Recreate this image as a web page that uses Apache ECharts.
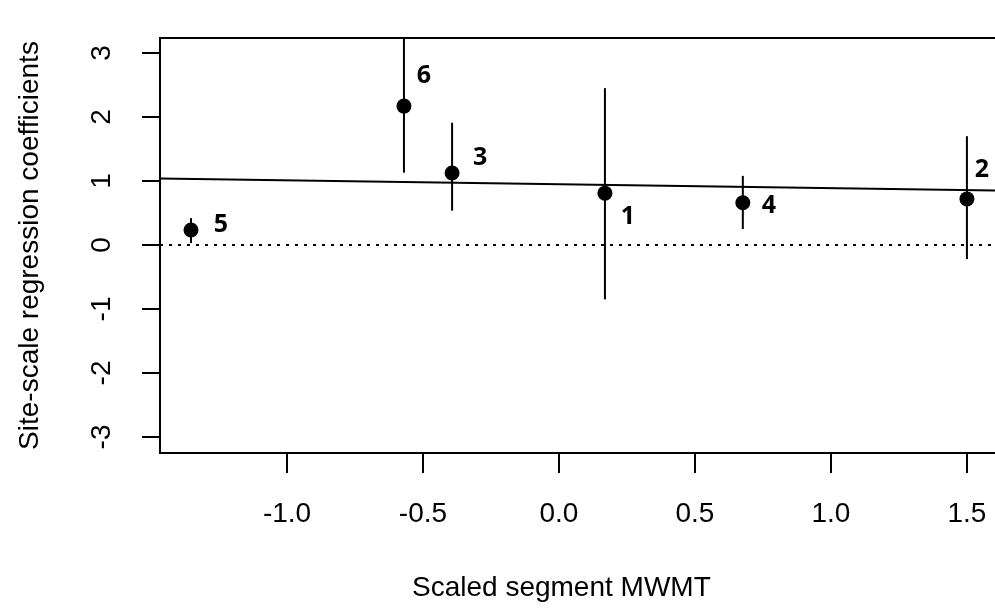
<!DOCTYPE html>
<html>
<head>
<meta charset="utf-8">
<script src="https://cdn.jsdelivr.net/npm/echarts@6/dist/echarts.min.js"></script>
<style>
  html, body { margin: 0; padding: 0; background: #fff; }
  #grafico { width: 995px; height: 611px; }
</style>
</head>
<body>
<div id="grafico"></div>
<script>
// site values
const siteLabels = ["5", "6", "3", "1", "4", "2"];
const siteMwmt = [-1.353, -0.57, -0.393, 0.169, 0.676, 1.50];
const siteCoef = [0.234, 2.17, 1.125, 0.81, 0.66, 0.72];
const ciLower = [0.03, 1.13, 0.536, -0.85, 0.25, -0.22];
const ciUpper = [0.42, 3.6, 1.91, 2.45, 1.08, 1.70];

// fitted line, end points
const fitX = [-1.467, 1.64];
const fitY = [1.04, 0.85];

const xTicks = [-1.0, -0.5, 0.0, 0.5, 1.0, 1.5];
const yTicks = [-3, -2, -1, 0, 1, 2, 3];

// where each number sits next to its point (px)
const labelOffsets = [[30, -5], [20, -30], [28, -15], [23, 24], [26, 3], [15, -29]];

const fonte = "'Liberation Sans', Arial, sans-serif";

let myChart = echarts.init(document.getElementById("grafico"));

let option = {
  animation: false,
  grid: {
    left: 160,
    top: 38,
    width: 845,
    bottom: 158,
    outerBoundsMode: "none",
    containLabel: false,
    show: true,
    borderColor: "#000",
    borderWidth: 2,
    backgroundColor: "transparent"
  },
  xAxis: {
    type: "value",
    min: -1.467,
    max: 1.64,
    splitLine: { show: false },
    axisLine: { show: false, onZero: false },
    axisTick: {
      show: true,
      length: 20,
      customValues: xTicks,
      lineStyle: { color: "#000", width: 2 }
    },
    axisLabel: {
      customValues: xTicks,
      margin: 47,
      fontSize: 28,
      fontFamily: fonte,
      color: "#000",
      formatter: v => v.toFixed(1)
    }
  },
  yAxis: {
    type: "value",
    min: -3.25,
    max: 3.234,
    splitLine: { show: false },
    axisLine: { show: false, onZero: false },
    axisTick: {
      show: true,
      length: 18,
      customValues: yTicks,
      lineStyle: { color: "#000", width: 2 }
    },
    axisLabel: {
      customValues: yTicks,
      rotate: 90,
      margin: 44,
      fontSize: 28,
      fontFamily: fonte,
      color: "#000"
    },
    name: "Site-scale regression coefficients",
    nameLocation: "middle",
    nameRotate: 90,
    nameGap: 116,
    nameTextStyle: { fontSize: 28, fontFamily: fonte, color: "#000" }
  },
  graphic: [{
    type: "text",
    left: 562 - 150,
    top: 574,
    style: {
      text: "Scaled segment MWMT",
      fontSize: 28,
      fontFamily: fonte,
      fill: "#000",
      width: 300,
      align: "center"
    }
  }],
  series: [
    {
      type: "line",
      data: fitX.map((x, i) => [x, fitY[i]]),
      symbol: "none",
      lineStyle: { color: "#000", width: 2 },
      markLine: {
        silent: true,
        symbol: "none",
        label: { show: false },
        lineStyle: { color: "#000", width: 2, type: [3, 6] },
        data: [{ yAxis: 0 }]
      },
      z: 2
    },
    {
      type: "custom",
      data: siteMwmt.map((x, i) => [x, ciLower[i], ciUpper[i]]),
      renderItem: function (params, api) {
        let cs = params.coordSys;
        let p1 = api.coord([api.value(0), api.value(1)]);
        let p2 = api.coord([api.value(0), api.value(2)]);
        let yTop = Math.max(cs.y, Math.min(p1[1], p2[1]));
        let yBot = Math.min(cs.y + cs.height, Math.max(p1[1], p2[1]));
        return {
          type: "line",
          shape: { x1: p1[0], y1: yTop, x2: p1[0], y2: yBot },
          style: { stroke: "#000", lineWidth: 2 }
        };
      },
      z: 3
    },
    {
      type: "scatter",
      data: siteMwmt.map((x, i) => ({
        value: [x, siteCoef[i]],
        label: { offset: labelOffsets[i] }
      })),
      symbol: "circle",
      symbolSize: 15,
      itemStyle: { color: "#000", opacity: 1 },
      label: {
        show: true,
        position: "inside",
        formatter: p => siteLabels[p.dataIndex],
        fontFamily: "'Open Sans', sans-serif",
        fontWeight: "bold",
        fontSize: 25,
        color: "#000",
        opacity: 1
      },
      z: 4
    }
  ]
};

myChart.setOption(option);
</script>
</body>
</html>
